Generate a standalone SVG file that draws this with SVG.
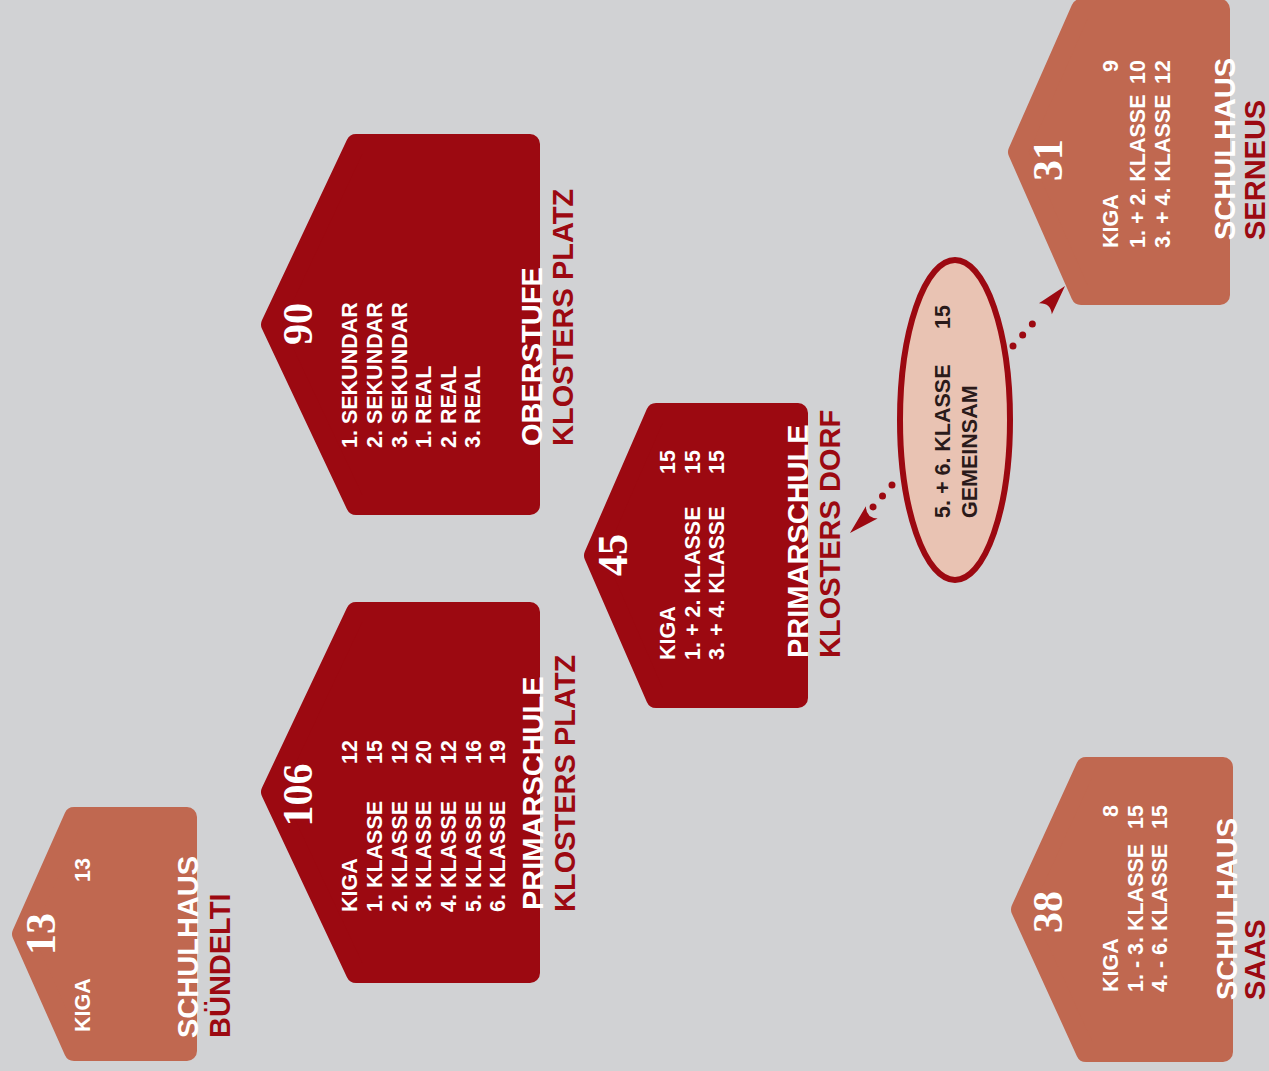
<svg xmlns="http://www.w3.org/2000/svg" width="1269" height="1071" viewBox="0 0 1269 1071">
<style>
.bg{fill:#d1d2d4}
.dark{fill:#9c0911;stroke:#9c0911;stroke-width:20;stroke-linejoin:round}
.terra{fill:#c06850;stroke:#c06850;stroke-width:20;stroke-linejoin:round}
text{font-family:"Liberation Sans",Arial,sans-serif;font-weight:bold}
.big{font-family:"Liberation Serif","Times New Roman",serif;font-size:42px;fill:#fff;text-anchor:middle}
.li{font-size:21.5px;fill:#fff}
.num{font-size:21.5px;fill:#fff;text-anchor:end}
.t1{font-size:29px;fill:#fff}
.t2{font-size:29px;fill:#9c0911}
.et{font-size:21.5px;fill:#2a1a1a}
.dots{fill:none;stroke:#9c0911;stroke-width:7;stroke-linecap:round}
.ah{fill:#9c0911}
</style>
<defs>
<path id="arrowhead" d="M0,0 L-30,-8.5 Q-22,0 -30,8.5 Z"/>
</defs>
<rect class="bg" x="0" y="0" width="1269" height="1071"/>

<g id="node-buendelti">
<polygon class="terra" points="74,817 187,817 187,1051 74,1051 22,934"/>
<text class="big" transform="translate(55,934) rotate(-90)">13</text>
<text class="li" transform="translate(90,1032) rotate(-90)">KIGA</text>
<text class="num" transform="translate(90,858) rotate(-90)">13</text>
<text class="t1" transform="translate(198,1038) rotate(-90)">SCHULHAUS</text>
<text class="t2" transform="translate(230,1038) rotate(-90)">BÜNDELTI</text>
</g>

<g id="node-primar-platz">
<polygon class="dark" points="356,612 530,612 530,973 356,973 271,792"/>
<text class="big" transform="translate(312,795) rotate(-90)">106</text>
<text class="li" transform="translate(357,912) rotate(-90)">KIGA</text>
<text class="li" transform="translate(382,912) rotate(-90)">1. KLASSE</text>
<text class="li" transform="translate(407,912) rotate(-90)">2. KLASSE</text>
<text class="li" transform="translate(431,912) rotate(-90)">3. KLASSE</text>
<text class="li" transform="translate(456,912) rotate(-90)">4. KLASSE</text>
<text class="li" transform="translate(481,912) rotate(-90)">5. KLASSE</text>
<text class="li" transform="translate(505,912) rotate(-90)">6. KLASSE</text>
<text class="num" transform="translate(357,740) rotate(-90)">12</text>
<text class="num" transform="translate(382,740) rotate(-90)">15</text>
<text class="num" transform="translate(407,740) rotate(-90)">12</text>
<text class="num" transform="translate(431,740) rotate(-90)">20</text>
<text class="num" transform="translate(456,740) rotate(-90)">12</text>
<text class="num" transform="translate(481,740) rotate(-90)">16</text>
<text class="num" transform="translate(505,740) rotate(-90)">19</text>
<text class="t1" transform="translate(543,910) rotate(-90)">PRIMARSCHULE</text>
<text class="t2" transform="translate(575,912) rotate(-90)">KLOSTERS PLATZ</text>
</g>

<g id="node-oberstufe">
<polygon class="dark" points="356,144 530,144 530,505 356,505 271,324.5"/>
<text class="big" transform="translate(312,324) rotate(-90)">90</text>
<text class="li" transform="translate(357,448) rotate(-90)">1. SEKUNDAR</text>
<text class="li" transform="translate(382,448) rotate(-90)">2. SEKUNDAR</text>
<text class="li" transform="translate(407,448) rotate(-90)">3. SEKUNDAR</text>
<text class="li" transform="translate(431,448) rotate(-90)">1. REAL</text>
<text class="li" transform="translate(456,448) rotate(-90)">2. REAL</text>
<text class="li" transform="translate(480,448) rotate(-90)">3. REAL</text>
<text class="t1" transform="translate(542,446) rotate(-90)">OBERSTUFE</text>
<text class="t2" transform="translate(573,446) rotate(-90)">KLOSTERS PLATZ</text>
</g>

<g id="node-primar-dorf">
<polygon class="dark" points="656,413 798,413 798,698 656,698 594,555.5"/>
<text class="big" transform="translate(627,555) rotate(-90)">45</text>
<text class="li" transform="translate(675,660) rotate(-90)">KIGA</text>
<text class="li" transform="translate(700,660) rotate(-90)">1. + 2. KLASSE</text>
<text class="li" transform="translate(724,660) rotate(-90)">3. + 4. KLASSE</text>
<text class="num" transform="translate(675,450) rotate(-90)">15</text>
<text class="num" transform="translate(700,450) rotate(-90)">15</text>
<text class="num" transform="translate(724,450) rotate(-90)">15</text>
<text class="t1" transform="translate(808,658) rotate(-90)">PRIMARSCHULE</text>
<text class="t2" transform="translate(840,658) rotate(-90)">KLOSTERS DORF</text>
</g>

<g id="node-serneus">
<polygon class="terra" points="1081,9 1220,9 1220,295 1081,295 1018,152"/>
<text class="big" transform="translate(1062,160) rotate(-90)">31</text>
<text class="li" transform="translate(1118,248) rotate(-90)">KIGA</text>
<text class="li" transform="translate(1145,248) rotate(-90)">1. + 2. KLASSE</text>
<text class="li" transform="translate(1170,248) rotate(-90)">3. + 4. KLASSE</text>
<text class="num" transform="translate(1118,60) rotate(-90)">9</text>
<text class="num" transform="translate(1145,60) rotate(-90)">10</text>
<text class="num" transform="translate(1170,60) rotate(-90)">12</text>
<text class="t1" transform="translate(1235,240) rotate(-90)">SCHULHAUS</text>
<text class="t2" transform="translate(1265,240) rotate(-90)">SERNEUS</text>
</g>

<g id="node-saas">
<polygon class="terra" points="1086,767 1223,767 1223,1052 1086,1052 1021,909.5"/>
<text class="big" transform="translate(1062,912) rotate(-90)">38</text>
<text class="li" transform="translate(1118,992) rotate(-90)">KIGA</text>
<text class="li" transform="translate(1143,992) rotate(-90)">1. - 3. KLASSE</text>
<text class="li" transform="translate(1167,992) rotate(-90)">4. - 6. KLASSE</text>
<text class="num" transform="translate(1118,805) rotate(-90)">8</text>
<text class="num" transform="translate(1143,805) rotate(-90)">15</text>
<text class="num" transform="translate(1167,805) rotate(-90)">15</text>
<text class="t1" transform="translate(1237,1000) rotate(-90)">SCHULHAUS</text>
<text class="t2" transform="translate(1265,1000) rotate(-90)">SAAS</text>
</g>

<g id="node-gemeinsam">
<ellipse cx="955" cy="420" rx="55" ry="160" fill="#e9c3b3" stroke="#9c0911" stroke-width="6"/>
<text class="et" transform="translate(950,518) rotate(-90)">5. + 6. KLASSE</text>
<text class="et" transform="translate(950,305) rotate(-90)" text-anchor="end">15</text>
<text class="et" transform="translate(977,518) rotate(-90)">GEMEINSAM</text>
</g>

<g id="connectors">
<line class="dots" x1="892" y1="485" x2="873" y2="507" stroke-dasharray="0 14.5"/>
<use href="#arrowhead" class="ah" transform="translate(850,533) rotate(136.5)"/>
<line class="dots" x1="1013" y1="346" x2="1042" y2="313" stroke-dasharray="0 14.65"/>
<use href="#arrowhead" class="ah" transform="translate(1065,286) rotate(-49.2)"/>
</g>
</svg>
